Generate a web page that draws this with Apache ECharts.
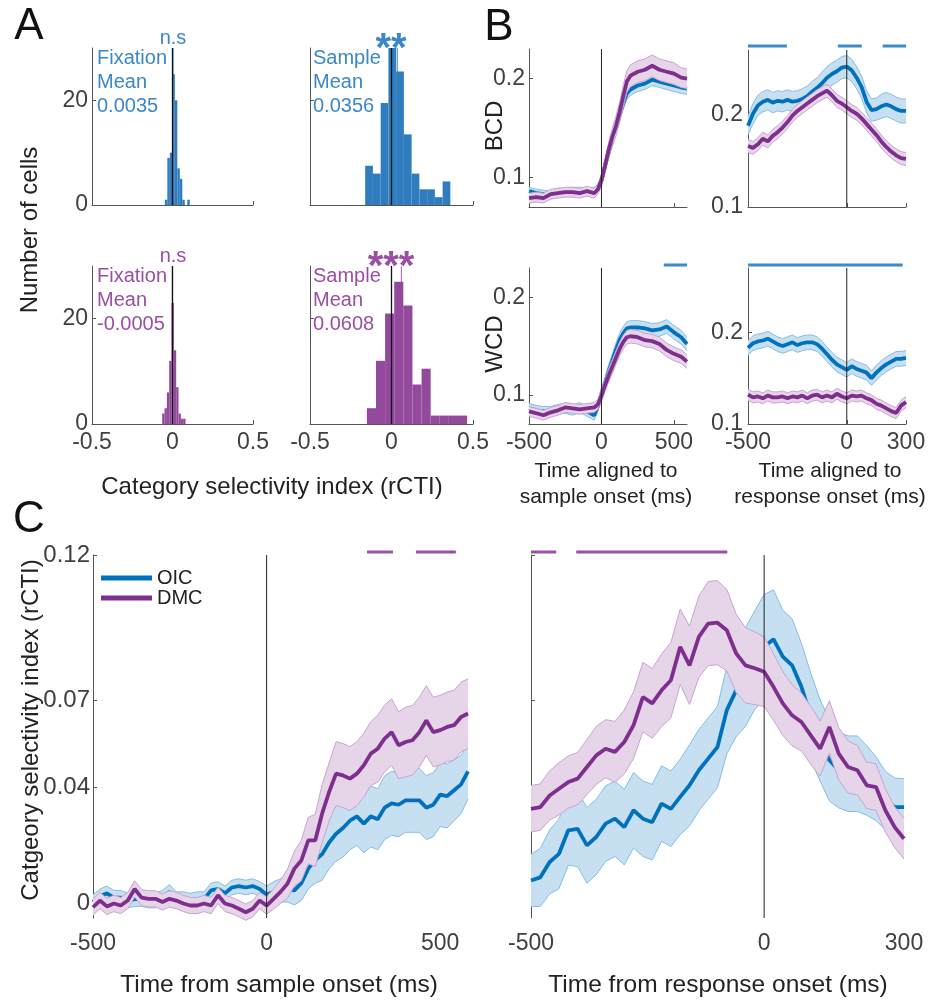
<!DOCTYPE html>
<html><head><meta charset="utf-8">
<script src="https://cdn.jsdelivr.net/npm/echarts@6/dist/echarts.min.js"></script>
<style>html,body{margin:0;padding:0;background:#fff}#c{width:946px;height:1000px}</style>
</head><body><div id="c"></div><script>
// ===== Panel A: histograms (bin start, bin width, counts) =====
const histFixOIC = {start:-0.0476, width:0.0155, counts:[1,9,10,25,20,7,5,1,0,1]};
const histSmpOIC = {start:-0.1615, width:0.0475, counts:[7.5,6,19.5,30,25.5,13.5,6,3,3,1.5,4.5]};
const histFixDMC = {start:-0.064, width:0.0145, counts:[2,3,6,12,23,14,7,2,1,1]};
const histSmpDMC = {start:-0.151, width:0.0559, counts:[3,12,21,27,22.5,7.5,10.5,1.6,1.6,1.6,1.6]};
const histMeans = [0.0035, 0.0356, -0.0005, 0.0608];
const histMeanLabels = ['Fixation\nMean\n0.0035','Sample\nMean\n0.0356','Fixation\nMean\n-0.0005','Sample\nMean\n0.0608'];
const histSig = ['n.s','**','n.s','***'];
const histXTicks = [-0.5, 0, 0.5];
const histYTicks = [0, 20];

// ===== Panel B =====
const bSampleT = [-500,-450,-400,-350,-300,-250,-200,-150,-100,-50,-25,0,25,50,75,100,125,150,175,200,250,300,350,400,450,500,550,590];
const bRespT = [-500,-475,-450,-425,-400,-375,-350,-325,-300,-275,-250,-225,-200,-175,-150,-125,-100,-75,-50,-25,0,25,50,75,100,125,150,175,200,225,250,275,300];

const bcdSampleOIC = [0.086,0.084,0.083,0.082,0.085,0.085,0.086,0.086,0.085,0.086,0.089,0.097,0.112,0.126,0.138,0.150,0.163,0.175,0.185,0.189,0.193,0.195,0.199,0.197,0.195,0.193,0.191,0.190];
const bcdSampleOICse = [0.004,0.004,0.004,0.004,0.004,0.004,0.004,0.004,0.004,0.004,0.004,0.005,0.005,0.006,0.006,0.006,0.006,0.006,0.006,0.006,0.006,0.006,0.006,0.006,0.006,0.006,0.006,0.006];
const bcdSampleDMC = [0.079,0.080,0.079,0.083,0.084,0.085,0.085,0.084,0.086,0.084,0.088,0.097,0.112,0.128,0.141,0.152,0.166,0.182,0.197,0.203,0.207,0.209,0.213,0.209,0.207,0.205,0.201,0.200];
const bcdSampleDMCse = [0.005,0.005,0.005,0.005,0.005,0.005,0.005,0.005,0.005,0.005,0.005,0.006,0.007,0.008,0.009,0.010,0.010,0.011,0.011,0.011,0.011,0.011,0.011,0.011,0.011,0.011,0.010,0.010];

const bcdRespOIC = [0.188,0.201,0.210,0.214,0.216,0.213,0.215,0.214,0.216,0.214,0.215,0.217,0.220,0.225,0.229,0.234,0.240,0.244,0.247,0.251,0.252,0.248,0.240,0.230,0.214,0.205,0.206,0.209,0.211,0.209,0.206,0.204,0.204];
const bcdRespOICse = [0.010,0.011,0.011,0.011,0.011,0.011,0.011,0.011,0.011,0.011,0.011,0.011,0.011,0.011,0.011,0.012,0.012,0.012,0.012,0.012,0.012,0.012,0.012,0.012,0.012,0.012,0.012,0.013,0.013,0.013,0.013,0.013,0.013];
const bcdRespDMC = [0.166,0.164,0.168,0.174,0.171,0.177,0.181,0.186,0.192,0.199,0.204,0.208,0.212,0.216,0.220,0.223,0.226,0.221,0.215,0.212,0.208,0.204,0.201,0.196,0.190,0.184,0.178,0.171,0.165,0.160,0.156,0.153,0.152];
const bcdRespDMCse = [0.007,0.007,0.007,0.007,0.007,0.007,0.007,0.007,0.007,0.007,0.007,0.007,0.007,0.007,0.007,0.007,0.007,0.007,0.007,0.007,0.007,0.007,0.007,0.007,0.007,0.007,0.007,0.007,0.007,0.007,0.007,0.007,0.007];

const wcdSampleOIC = [0.086,0.084,0.083,0.083,0.085,0.086,0.084,0.087,0.083,0.079,0.088,0.101,0.112,0.124,0.135,0.146,0.156,0.163,0.168,0.169,0.169,0.168,0.166,0.167,0.170,0.164,0.159,0.152];
const wcdSampleOICse = [0.005,0.005,0.005,0.005,0.005,0.005,0.005,0.005,0.005,0.005,0.005,0.006,0.006,0.007,0.007,0.007,0.007,0.007,0.007,0.007,0.007,0.007,0.007,0.007,0.007,0.007,0.007,0.007];
const wcdSampleDMC = [0.083,0.081,0.079,0.082,0.084,0.087,0.086,0.085,0.086,0.087,0.090,0.099,0.110,0.120,0.129,0.138,0.147,0.154,0.159,0.160,0.159,0.156,0.155,0.152,0.146,0.142,0.139,0.134];
const wcdSampleDMCse = [0.005,0.005,0.005,0.005,0.005,0.005,0.005,0.005,0.005,0.005,0.005,0.006,0.006,0.007,0.007,0.007,0.007,0.007,0.007,0.007,0.007,0.007,0.007,0.007,0.007,0.007,0.007,0.007];

const wcdRespOIC = [0.183,0.188,0.190,0.191,0.193,0.190,0.187,0.185,0.187,0.189,0.186,0.188,0.189,0.189,0.187,0.182,0.176,0.170,0.165,0.162,0.159,0.163,0.160,0.158,0.156,0.150,0.156,0.161,0.165,0.168,0.171,0.171,0.172];
const wcdRespOICse = [0.008,0.008,0.008,0.008,0.008,0.008,0.008,0.008,0.008,0.008,0.008,0.008,0.008,0.008,0.008,0.008,0.008,0.008,0.008,0.008,0.008,0.008,0.008,0.008,0.008,0.008,0.008,0.008,0.008,0.008,0.008,0.008,0.008];
const wcdRespDMC = [0.132,0.129,0.130,0.128,0.131,0.129,0.129,0.130,0.128,0.130,0.129,0.131,0.128,0.131,0.132,0.129,0.131,0.129,0.133,0.130,0.128,0.131,0.130,0.131,0.128,0.126,0.122,0.120,0.117,0.114,0.112,0.120,0.124];
const wcdRespDMCse = [0.006,0.006,0.006,0.006,0.006,0.006,0.006,0.006,0.006,0.006,0.006,0.006,0.006,0.006,0.006,0.006,0.006,0.006,0.006,0.006,0.006,0.006,0.006,0.006,0.006,0.006,0.006,0.006,0.006,0.006,0.006,0.006,0.006];

const sigBcdResp = [[-500,-303],[-45,76],[182,300]];
const sigWcdSample = [[430,590]];
const sigWcdResp = [[-500,283]];
const bSampleTicks = [-500,0,500];
const bRespTicks = [-500,0,300];
const bYTicks = [0.1,0.2];

// ===== Panel C =====
const cSampleT = [-500,-480,-460,-440,-420,-400,-380,-360,-340,-320,-300,-280,-260,-240,-220,-200,-180,-160,-140,-120,-100,-80,-60,-40,-20,0,20,40,60,80,100,120,140,160,180,200,220,240,260,280,300,320,340,360,380,400,420,440,460,480,500,520,540,560,580];
const cSampleOIC = [0.0005,0.0025,0.0035,0.002,0.002,0.001,0.0015,0.0015,0.001,0.001,0.002,0.004,0.0015,0.0015,0.001,0.0015,0.0015,0.0045,0.005,0.0035,0.0055,0.006,0.0055,0.006,0.005,0.003,0.004,0.0045,0.005,0.0045,0.007,0.012,0.015,0.017,0.021,0.024,0.026,0.0285,0.030,0.0275,0.030,0.029,0.033,0.0345,0.034,0.0355,0.0355,0.0355,0.033,0.034,0.0375,0.037,0.039,0.041,0.0455];
const cSampleOICse = [0.0025,0.0025,0.0025,0.0025,0.0025,0.0025,0.0025,0.0025,0.0025,0.0025,0.0025,0.0025,0.0025,0.0025,0.0025,0.0025,0.0025,0.0025,0.0025,0.0025,0.0025,0.0025,0.0025,0.0025,0.0025,0.003,0.0035,0.004,0.0045,0.005,0.006,0.007,0.008,0.009,0.009,0.0095,0.010,0.010,0.010,0.010,0.0105,0.0105,0.011,0.011,0.011,0.011,0.011,0.011,0.011,0.011,0.011,0.011,0.0105,0.010,0.0095];
const cSampleDMC = [-0.0013,0.001,-0.001,0.000,-0.0007,0.001,0.005,0.002,0.0016,0.0016,0.0005,0.0016,0.001,0.000,-0.0007,-0.0007,0.000,-0.0007,0.0028,0.000,-0.0007,-0.0018,-0.003,-0.0018,0.001,-0.0007,0.0016,0.004,0.0068,0.012,0.0148,0.0217,0.0217,0.031,0.0384,0.0447,0.0441,0.043,0.0447,0.0476,0.0516,0.0533,0.0568,0.059,0.0545,0.0556,0.0562,0.059,0.063,0.059,0.0597,0.0608,0.0614,0.0642,0.0654];
const cSampleDMCse = [0.0028,0.0028,0.0028,0.0028,0.0028,0.0028,0.0028,0.0028,0.0028,0.0028,0.0028,0.0028,0.0028,0.0028,0.0028,0.0028,0.0028,0.0028,0.0028,0.0028,0.0028,0.0028,0.0028,0.0028,0.0028,0.003,0.0035,0.004,0.005,0.006,0.007,0.008,0.009,0.010,0.010,0.011,0.011,0.011,0.011,0.011,0.011,0.0115,0.0115,0.0115,0.0115,0.012,0.012,0.012,0.012,0.012,0.012,0.012,0.012,0.012,0.012];

const cRespT = [-500,-480,-460,-440,-420,-400,-380,-360,-340,-320,-300,-280,-260,-240,-220,-200,-180,-160,-140,-120,-100,-80,-60,-40,-20,0,20,40,60,80,100,120,140,160,180,200,220,240,260,280,300];
const cRespOIC = [0.0079,0.009,0.0143,0.0171,0.0252,0.0257,0.020,0.0229,0.0275,0.0292,0.0263,0.0321,0.0292,0.028,0.0344,0.0326,0.0367,0.0407,0.0459,0.0499,0.0539,0.0666,0.0734,0.078,0.0838,0.0884,0.091,0.085,0.082,0.0746,0.0643,0.0562,0.0493,0.0459,0.0447,0.0447,0.0424,0.0395,0.0355,0.0332,0.0332];
const cRespOICse = [0.009,0.010,0.011,0.012,0.012,0.013,0.013,0.013,0.013,0.013,0.013,0.013,0.013,0.013,0.013,0.013,0.013,0.014,0.014,0.014,0.014,0.015,0.016,0.017,0.017,0.018,0.017,0.016,0.016,0.015,0.015,0.014,0.014,0.013,0.013,0.013,0.012,0.011,0.010,0.010,0.0098];
const cRespDMC = [0.0326,0.0332,0.0372,0.0395,0.0418,0.043,0.047,0.051,0.0533,0.0522,0.0556,0.0614,0.0711,0.0689,0.0734,0.0769,0.0884,0.082,0.0918,0.0964,0.0967,0.0941,0.0861,0.082,0.081,0.0798,0.0746,0.0689,0.0648,0.0625,0.0579,0.0533,0.0608,0.0516,0.047,0.0459,0.0407,0.0401,0.0321,0.0263,0.0223];
const cRespDMCse = [0.008,0.008,0.0085,0.009,0.009,0.009,0.0095,0.010,0.010,0.0105,0.011,0.0115,0.012,0.012,0.0125,0.013,0.013,0.0135,0.014,0.0145,0.0145,0.014,0.0135,0.013,0.0125,0.012,0.0115,0.011,0.0105,0.010,0.010,0.0095,0.009,0.009,0.009,0.0085,0.008,0.008,0.0075,0.007,0.007];
const sigCSample = [[289,364],[430,545]];
const sigCResp = [[-500,-446],[-403,-79]];
const cYTicks = [0, 0.04, 0.07, 0.12];
const cSampleTicks = [-500,0,500];
const cRespTicks = [-500,0,300];

// ===== styling =====
const FONT = '"Liberation Sans", Arial, Helvetica, sans-serif';
const BLUE = '#0072BD', PURPLE = '#7E2F8E';
const BAR_BLUE = '#2f7dbf', BAR_PURPLE = '#934a9c';
const TXT_BLUE = '#3a88c8', TXT_PURPLE = '#9a4fa4';
const SIG_BLUE = '#3a8ccc', SIG_PURPLE = '#9b50a6';
const AX = '#555555', LBL = '#404040';
const TICK_FS = 23;

const grids = [
  {left:92, top:48, width:161, height:157},
  {left:310, top:48, width:163, height:157},
  {left:92, top:266, width:161, height:158},
  {left:310, top:266, width:163, height:158},
  {left:529, top:49, width:158, height:158},
  {left:748, top:50, width:158, height:157},
  {left:529, top:268, width:158, height:156},
  {left:748, top:268, width:158, height:156},
  {left:93, top:555, width:375, height:363},
  {left:531, top:555, width:373, height:363}
];

function xAx(gi, min, max, ticks, showLabels, showLine, margin) {
  return {type:'value', gridIndex:gi, min, max,
    axisLine:{show:showLine, onZero:false, lineStyle:{color:AX, width:1}},
    axisTick:{show:showLine, inside:true, length:4, customValues:ticks, lineStyle:{color:AX}},
    axisLabel:{show:showLabels, customValues:ticks, fontFamily:FONT, fontSize:TICK_FS, color:LBL, margin:margin, formatter:v=>String(v)},
    splitLine:{show:false}};
}
function yAx(gi, min, max, ticks, showLabels, margin, fs) {
  return {type:'value', gridIndex:gi, min, max,
    axisLine:{show:true, onZero:false, lineStyle:{color:AX, width:1}},
    axisTick:{show:true, inside:true, length:4, customValues:ticks, lineStyle:{color:AX}},
    axisLabel:{show:showLabels, customValues:ticks, fontFamily:FONT, fontSize:fs || TICK_FS, color:LBL, margin:margin, formatter:v=>String(v)},
    splitLine:{show:false}};
}

const xAxes = [
  xAx(0,-0.5,0.5,histXTicks,false,true,7), xAx(1,-0.5,0.5,histXTicks,false,true,7),
  xAx(2,-0.5,0.5,histXTicks,true,true,7), xAx(3,-0.5,0.5,histXTicks,true,true,7),
  xAx(4,-500,590,bSampleTicks,false,true,7), xAx(5,-500,300,bRespTicks,false,true,7),
  xAx(6,-500,590,bSampleTicks,true,true,7), xAx(7,-500,300,bRespTicks,true,true,7),
  xAx(8,-500,580,cSampleTicks,true,false,14), xAx(9,-500,300,cRespTicks,true,false,14)
];
const yAxes = [
  yAx(0,0,30,histYTicks,true,4), yAx(1,0,30,histYTicks,false,4),
  yAx(2,0,30,histYTicks,true,4), yAx(3,0,30,histYTicks,false,4),
  yAx(4,0.07,0.23,bYTicks,true,4), yAx(5,0.1,0.27,bYTicks,true,5),
  yAx(6,0.07,0.23,bYTicks,true,4), yAx(7,0.1,0.27,bYTicks,true,5),
  yAx(8,-0.005,0.12,cYTicks,true,3,24), yAx(9,-0.005,0.12,cYTicks,false,3)
];

const series = [];
function histSeries(gi, h, color) {
  const data = h.counts.map((c,i)=>[h.start+i*h.width, h.start+(i+1)*h.width, c]);
  return {type:'custom', xAxisIndex:gi, yAxisIndex:gi, data, z:2, silent:true,
    encode:{x:[0,1], y:2},
    renderItem:(p, api)=>{
      const a = api.coord([api.value(0), api.value(2)]);
      const b = api.coord([api.value(1), 0]);
      return {type:'rect', shape:{x:a[0], y:a[1], width:b[0]-a[0], height:b[1]-a[1]}, style:{fill:color}};
    }};
}
function vline(gi, x, y0, y1, color, w, z, zl) {
  return {type:'line', xAxisIndex:gi, yAxisIndex:gi, data:[[x,y0],[x,y1]], symbol:'none',
    lineStyle:{color, width:w}, z, zlevel:zl || 0, silent:true};
}
function band(gi, t, m, s, fill, edge, z, zl) {
  const data = t.map((x,i)=>[x, m[i]-s[i], m[i]+s[i]]);
  return {type:'custom', xAxisIndex:gi, yAxisIndex:gi, data, z, zlevel:zl, silent:true,
    encode:{x:0, y:[1,2]},
    renderItem:(p, api)=>{
      if (p.dataIndex !== 0) return null;
      const up = [], lo = [];
      for (const d of data) { up.push(api.coord([d[0], d[2]])); lo.push(api.coord([d[0], d[1]])); }
      return {type:'group', children:[
        {type:'polygon', shape:{points:up.concat(lo.slice().reverse())}, style:{fill, stroke:null}},
        {type:'polyline', shape:{points:up}, style:{stroke:edge, lineWidth:1, fill:null}},
        {type:'polyline', shape:{points:lo}, style:{stroke:edge, lineWidth:1, fill:null}}
      ]};
    }};
}
function meanLine(gi, name, t, m, color, w, z, zl) {
  return {type:'line', name, xAxisIndex:gi, yAxisIndex:gi, data:t.map((x,i)=>[x,m[i]]),
    symbol:'none', showSymbol:false, color, itemStyle:{color}, lineStyle:{color, width:w}, z, zlevel:zl, silent:true};
}
function sig(gi, segs, y, color) {
  segs.forEach(sg => series.push({type:'line', xAxisIndex:gi, yAxisIndex:gi, data:[[sg[0],y],[sg[1],y]],
    symbol:'none', clip:false, lineStyle:{color, width:3}, z:6, zlevel:1, silent:true}));
}

// Panel A
const hists = [[histFixOIC, BAR_BLUE, '#5fa0d6'], [histSmpOIC, BAR_BLUE, '#5fa0d6'], [histFixDMC, BAR_PURPLE, '#b27dba'], [histSmpDMC, BAR_PURPLE, '#b27dba']];
hists.forEach((h, i) => {
  series.push(vline(i, histMeans[i], 0, 30, h[2], 1.2, 1, 0));
  series.push(histSeries(i, h[0], h[1]));
  series.push(vline(i, 0, 0, 30, '#111', 1.3, 5, 1));
});

// Panels B and C: blue layer (zlevel 0) under purple layer (zlevel 1)
const BF_BLUE = '#c7e0f1', BE_BLUE = '#86bde6', BF_PUR = '#e6d5e9', BE_PUR = '#c9a2d0';
const linePanels = [
  [4, bSampleT, bcdSampleOIC, bcdSampleOICse, bcdSampleDMC, bcdSampleDMCse, 0.07, 0.23, 3.8],
  [5, bRespT, bcdRespOIC, bcdRespOICse, bcdRespDMC, bcdRespDMCse, 0.1, 0.27, 3.8],
  [6, bSampleT, wcdSampleOIC, wcdSampleOICse, wcdSampleDMC, wcdSampleDMCse, 0.07, 0.23, 3.8],
  [7, bRespT, wcdRespOIC, wcdRespOICse, wcdRespDMC, wcdRespDMCse, 0.1, 0.27, 3.8],
  [8, cSampleT, cSampleOIC, cSampleOICse, cSampleDMC, cSampleDMCse, -0.005, 0.12, 3.8],
  [9, cRespT, cRespOIC, cRespOICse, cRespDMC, cRespDMCse, -0.005, 0.12, 3.8]
];
linePanels.forEach(p => {
  series.push(band(p[0], p[1], p[2], p[3], BF_BLUE, BE_BLUE, 1, 0));
  series.push(meanLine(p[0], 'OIC', p[1], p[2], BLUE, p[8], 2, 0));
  series.push(band(p[0], p[1], p[4], p[5], BF_PUR, BE_PUR, 1, 1));
  series.push(meanLine(p[0], 'DMC', p[1], p[4], PURPLE, p[8], 2, 1));
  series.push(vline(p[0], 0, p[6], p[7], '#222', 1, 5, 1));
});
sig(5, sigBcdResp, 0.2743, SIG_BLUE);
sig(6, sigWcdSample, 0.2331, SIG_BLUE);
sig(7, sigWcdResp, 0.2733, SIG_BLUE);
sig(8, sigCSample, 0.121, SIG_PURPLE);
sig(9, sigCResp, 0.121, SIG_PURPLE);

// Text
function txt(text, x, y, size, color, extra, weight) {
  return Object.assign({type:'text', x, y, z:100, silent:true,
    style:{text, fontFamily:FONT, fontSize:size, fontWeight:weight || 'normal', fill:color, align:'center', verticalAlign:'middle', textAlign:'center', textVerticalAlign:'middle'}}, extra || {});
}
function ltxt(text, x, y, size, color) {
  return {type:'text', x, y, z:100, silent:true,
    style:{text, fontFamily:FONT, fontSize:size, lineHeight:24, fill:color, align:'left', verticalAlign:'top', textAlign:'left', textVerticalAlign:'top'}};
}
const ROT = {rotation:Math.PI/2};
const graphics = [
  txt('A', 29, 27, 44, '#111'), txt('B', 499, 28, 44, '#111'), txt('C', 29, 520, 44, '#111'),
  txt('Number of cells', 30, 230, 24, '#222', ROT),
  txt('Category selectivity index (rCTI)', 272, 487, 24, '#222'),
  txt(histSig[0], 173, 38, 20, TXT_BLUE), txt(histSig[1], 391, 50, 40, TXT_BLUE, null, 'bold'),
  txt(histSig[2], 173, 256, 20, TXT_PURPLE), txt(histSig[3], 391, 268, 40, TXT_PURPLE, null, 'bold'),
  ltxt(histMeanLabels[0], 97, 46, 20, TXT_BLUE), ltxt(histMeanLabels[1], 313, 46, 20, TXT_BLUE),
  ltxt(histMeanLabels[2], 97, 264, 20, TXT_PURPLE), ltxt(histMeanLabels[3], 313, 264, 20, TXT_PURPLE),
  txt('BCD', 495, 126, 24, '#222', ROT),
  txt('WCD', 495, 344, 24, '#222', ROT),
  txt('Time aligned to', 606, 471, 21, '#222'), txt('sample onset (ms)', 606, 497, 21, '#222'),
  txt('Time aligned to', 830, 471, 21, '#222'), txt('response onset (ms)', 830, 497, 21, '#222'),
  txt('Catgeory selectivity index (rCTI)', 31, 730, 24, '#222', ROT),
  txt('Time from sample onset (ms)', 279, 985, 24.5, '#222'),
  txt('Time from response onset (ms)', 718, 985, 24.5, '#222')
];

const chart = echarts.init(document.getElementById('c'), null, {renderer:'canvas'});
chart.setOption({
  animation:false,
  backgroundColor:'#fff',
  grid:grids, xAxis:xAxes, yAxis:yAxes, series,
  legend:{show:true, data:['OIC','DMC'], left:101, top:568, orient:'vertical', padding:0, itemGap:0,
    itemWidth:51, itemHeight:5, icon:'rect', selectedMode:false,
    textStyle:{fontFamily:FONT, fontSize:20, lineHeight:20, color:'#222'}},
  graphic:graphics
});
</script></body></html>
